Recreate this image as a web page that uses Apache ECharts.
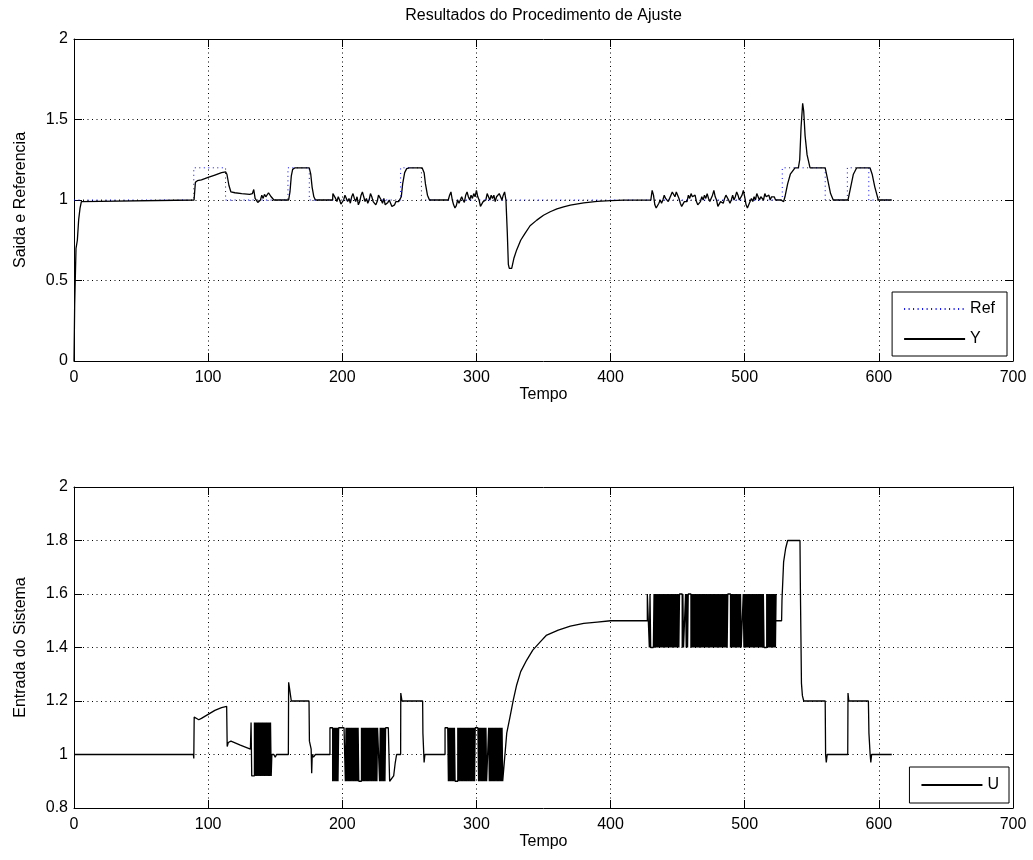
<!DOCTYPE html>
<html>
<head>
<meta charset="utf-8">
<title>Resultados do Procedimento de Ajuste</title>
<script src="https://cdn.jsdelivr.net/npm/echarts@6.0.0/dist/echarts.min.js"></script>
<style>
  html, body { margin: 0; padding: 0; background: #fff; }
  #grafico { width: 1033px; height: 860px; }
</style>
</head>
<body>
<div id="grafico"></div>
<script>
// ---------------- Dados ----------------
const titulo = 'Resultados do Procedimento de Ajuste';
const nomeTempo = 'Tempo';
const nomeSaida = 'Saida e Referencia';
const nomeEntrada = 'Entrada do Sistema';

const ticksTempo = [0, 100, 200, 300, 400, 500, 600, 700];
const ticksSaida = [0, 0.5, 1, 1.5, 2];
const ticksEntrada = [0.8, 1, 1.2, 1.4, 1.6, 1.8, 2];

// Referencia (degraus): [tempo, valor]
const referencia = [
  [0, 1], [89.3, 1], [89.3, 1.2], [113, 1.2], [113, 1], [159.5, 1], [159.5, 1.2],
  [175.4, 1.2], [175.4, 1], [243.5, 1], [243.5, 1.2], [259, 1.2], [259, 1],
  [528, 1], [528, 1.2], [560, 1.2], [560, 1], [576.5, 1], [576.5, 1.2],
  [592.5, 1.2], [592.5, 1], [609, 1]
];

// Saida Y: trechos suaves [tempo, valor]
const yTrecho0 = [
  [0, 0], [0.5, 0.35], [1.5, 0.7], [2.5, 0.75], [3.5, 0.88], [4.5, 0.95], [5.5, 0.99], [6.5, 1.0],
  [89.5, 1.0], [90.5, 1.11], [92, 1.12], [95, 1.125], [100, 1.14], [105, 1.155], [110, 1.17],
  [113, 1.175], [114, 1.16], [115.5, 1.09], [117, 1.05], [120, 1.045], [125, 1.04], [131, 1.035]
];
const yTrecho1 = [
  [160, 1.0], [161, 1.05], [162, 1.15], [163, 1.19], [164.8, 1.2], [175.4, 1.2], [176.5, 1.16],
  [177.5, 1.08], [178.8, 1.02], [180, 1.0], [192.8, 1.0]
];
const yTrecho2 = [
  [244, 1.02], [245, 1.1], [246.5, 1.17], [248, 1.195], [250, 1.2], [259.5, 1.2], [261, 1.17],
  [262, 1.1], [263.5, 1.03], [265, 1.0], [279, 1.0]
];
const yTrecho3 = [
  [322, 1.0], [323, 0.8], [323.8, 0.6], [324.5, 0.575], [326.3, 0.575], [328, 0.64], [330, 0.69],
  [333, 0.75], [336, 0.79], [340, 0.84], [345, 0.875], [350, 0.905], [355, 0.927], [360, 0.945],
  [365, 0.958], [370, 0.968], [380, 0.982], [390, 0.991], [400, 0.996], [410, 0.999], [430, 1.0]
];
const yTrecho4 = [
  [527, 1.0], [529, 0.99], [530, 1.02], [532, 1.1], [534, 1.16], [537.5, 1.2], [540, 1.2],
  [541, 1.25], [542, 1.45], [543.2, 1.6], [544, 1.55], [545, 1.4], [546.5, 1.28], [548.7, 1.2],
  [560, 1.2], [562, 1.12], [564, 1.04], [566, 1.0], [577, 1.0], [579, 1.08], [581, 1.16],
  [583.5, 1.2], [593.4, 1.2], [595, 1.16], [597, 1.08], [599.6, 1.0], [609.6, 1.0]
];
// Saida Y: trechos com excitacao, uma amostra por unidade de tempo
const inicioRuidoY = [132, 193, 280, 431];
const yRuido1 = [1.03, 1.04, 1.065, 1.01, 1.0, 0.985, 0.975, 1.0, 1.03, 1.01, 1.035, 1.02, 1.015,
  1.045, 1.035, 1.02, 1.01, 1.0, 1.0];
const yRuido2 = [1.04, 1.05, 1.01, 0.99, 1.02, 1.0, 0.975, 0.97, 1.0, 1.03, 1.02, 0.99, 1.01, 0.98,
  1.02, 1.04, 1.01, 0.99, 1.02, 0.97, 0.99, 1.03, 1.05, 1.02, 0.99, 1.01, 0.98, 1.0, 1.04, 1.02,
  0.99, 1.0, 0.97, 0.99, 1.03, 1.04, 1.0, 0.98, 1.01, 0.97, 0.96, 0.985, 1.0, 0.98, 0.96, 0.955,
  0.97, 0.99, 1.0, 0.99, 1.0];
const yRuido3 = [1.03, 1.05, 1.0, 0.97, 0.95, 0.965, 1.0, 0.98, 0.99, 1.02, 1.0, 0.985, 1.03, 1.05,
  1.02, 1.0, 1.03, 1.01, 1.04, 1.02, 1.06, 1.02, 1.0, 0.96, 0.97, 0.99, 0.98, 1.0, 1.04, 1.02,
  1.0, 1.03, 1.01, 1.03, 0.99, 1.02, 1.01, 1.04, 1.02, 1.0, 1.03, 1.05];
const yRuido4 = [1.06, 1.03, 0.97, 0.95, 0.96, 0.98, 1.0, 0.98, 1.0, 1.03, 1.01, 1.02, 0.99, 1.0,
  1.03, 1.05, 1.04, 1.02, 1.05, 1.03, 1.01, 0.98, 0.96, 0.97, 0.99, 1.0, 0.99, 1.03, 1.01, 1.04,
  1.02, 1.01, 1.03, 0.99, 0.97, 0.98, 0.99, 1.02, 1.0, 1.03, 1.01, 1.04, 1.01, 0.99, 1.0, 1.03,
  1.06, 1.02, 1.0, 0.96, 0.97, 0.99, 1.0, 0.98, 1.01, 1.03, 1.02, 1.0, 0.98, 1.0, 1.03, 1.0,
  1.02, 1.05, 1.03, 1.0, 0.99, 1.03, 1.06, 1.02, 0.97, 0.95, 0.97, 0.99, 1.01, 0.99, 1.02, 1.0,
  1.04, 1.02, 1.0, 1.02, 1.03, 1.0, 1.04, 1.02, 1.01, 1.03, 1.0, 1.02, 1.01, 1.02, 1.0, 1.01, 1.0];

// Entrada U: trechos [tempo, valor]
const uTrecho0 = [
  [0, 1], [89, 1], [89.3, 0.985], [89.6, 1.14], [93, 1.13], [95, 1.135], [100, 1.15],
  [105, 1.165], [110, 1.175], [113.8, 1.18], [114.2, 1.03], [115, 1.045], [117, 1.05],
  [124, 1.035], [131.5, 1.02], [132, 1.02]
];
const uTrecho1 = [
  [147.5, 1.0], [149, 1.0], [150, 0.99], [151, 1.0], [159.8, 1.0], [160, 1.27], [160.6, 1.25],
  [162, 1.2], [175.2, 1.2], [175.5, 1.05], [176.8, 1.02], [177.2, 0.93], [177.6, 1.0],
  [178.5, 0.99], [180, 1.0], [190.8, 1.0]
];
const uTrecho2 = [
  [238.3, 0.92], [239.5, 0.97], [240.5, 1.0], [243.5, 1.0], [243.6, 1.23], [244.5, 1.2],
  [259.9, 1.2], [260.1, 1.08], [260.8, 1.08], [261, 0.97], [261.6, 1.0], [263, 0.995], [276.6, 1.0]
];
const uTrecho3 = [
  [322.6, 1.08], [323.3, 1.08], [325, 1.14], [327.5, 1.204], [330, 1.26], [333, 1.31],
  [337.5, 1.353], [342, 1.39], [347.4, 1.42], [352, 1.445], [361, 1.465], [370, 1.48],
  [380, 1.49], [390, 1.495], [400, 1.5], [427.4, 1.5]
];
const uTrecho4 = [
  [522.9, 1.5], [527.5, 1.5], [527.8, 1.58], [528.8, 1.58], [529, 1.72], [530.5, 1.77],
  [532, 1.8], [541.2, 1.8], [541.5, 1.62], [542, 1.62], [542.3, 1.266], [543, 1.22], [544, 1.2],
  [560, 1.2], [560.3, 1.0], [560.8, 0.97], [561.5, 1.0], [576.8, 1.0], [577, 1.23], [577.6, 1.2],
  [592.2, 1.2], [592.6, 1.08], [593.5, 1.0], [594, 0.97], [594.6, 1.0], [609.6, 1.0]
];
// Entrada U: blocos de excitacao binaria (H = nivel alto, L = nivel baixo), meio instante por letra
const inicioBlocoU = [132, 190.8, 276.6, 427.4];
const niveisBlocoU = [[1.12, 0.92], [1.1, 0.9], [1.1, 0.9], [1.6, 1.4]];
const blocoU1 = 'HLLLLHLHLHLHLHLHLHLHLHLHLHLHLHL';
const blocoU2 = 'HHHHLHLHLHLHLHHHHHHHHHHLHLHLHLHLHLHLHLHLHLHLLLLHLHLHLHLHLHLHLHLHLHLHLHLHHHLHLHLHLHLHHHHHHLL';
const blocoU3 = 'HHHHHLHLHLHLHLHLLLLHLHLHLHLHLHLHLHLHLHLHLHLHLHHHHHLHLHLHLHLHLHLLLHLHLHLHLHLHLHLHLHLHLHL';
const blocoU4 = 'HHHLHLLLLLHLHLHLHLHLHLHLHLHLHLHLHLHLHLHLHLHLHLHLHHHHLHLLLHLHLHHHHLHLHLHLHLHLHLHLHLHLHLHLHLHLHLHLHLHLHLHLHLHLHLHLHLHLHLHLHHHHLHLHLHLHLHLHLHLHLLLHLHLHLHLHLHLHLHLHLHLHLHLHLHLHLHLLLLHLHLHLHLHLHLHLH';
const passoBlocoU = 0.5;

// ---------------- Montagem das series ----------------
function ruidoParaPontos(inicio, valores) {
  return valores.map((v, i) => [inicio + i, v]);
}
function blocoParaPontos(inicio, padrao, niveis) {
  const pts = [];
  for (let i = 0; i < padrao.length; i++) {
    const v = padrao[i] === 'H' ? niveis[0] : niveis[1];
    pts.push([inicio + i * passoBlocoU, v], [inicio + (i + 1) * passoBlocoU, v]);
  }
  return pts;
}

const saidaY = [].concat(
  yTrecho0, ruidoParaPontos(inicioRuidoY[0], yRuido1),
  yTrecho1, ruidoParaPontos(inicioRuidoY[1], yRuido2),
  yTrecho2, ruidoParaPontos(inicioRuidoY[2], yRuido3),
  yTrecho3, ruidoParaPontos(inicioRuidoY[3], yRuido4),
  yTrecho4
);
const blocosU = [blocoU1, blocoU2, blocoU3, blocoU4].map((b, k) =>
  blocoParaPontos(inicioBlocoU[k], b, niveisBlocoU[k]));
const entradaU = [].concat(
  uTrecho0, blocosU[0], uTrecho1, blocosU[1], uTrecho2, blocosU[2], uTrecho3, blocosU[3], uTrecho4
);

// ---------------- Estilo ----------------
const FONTE = '"Liberation Sans", Arial, Helvetica, sans-serif';
const TAM = 16;
const PONTILHADO = [1, 3.5];

function eixoX(grid, ticks, comRotulo) {
  return {
    type: 'value', gridIndex: grid, position: comRotulo ? 'bottom' : 'top',
    min: ticks[0], max: ticks[ticks.length - 1], interval: ticks[1] - ticks[0],
    name: comRotulo ? nomeTempo : '', nameLocation: 'middle', nameGap: 22,
    nameTextStyle: { fontFamily: FONTE, fontSize: TAM, color: '#000' },
    axisLine: { show: true, onZero: false, lineStyle: { color: '#000', width: 1 } },
    axisTick: { show: true, inside: true, length: 8, lineStyle: { color: '#000', width: 1 } },
    axisLabel: { show: comRotulo, margin: 9, fontFamily: FONTE, fontSize: TAM, color: '#000' },
    splitLine: { show: comRotulo, lineStyle: { color: '#000', width: 1, type: PONTILHADO } }
  };
}
function eixoY(grid, ticks, comRotulo, nome) {
  return {
    type: 'value', gridIndex: grid, position: comRotulo ? 'left' : 'right',
    min: ticks[0], max: ticks[ticks.length - 1], interval: +(ticks[1] - ticks[0]).toFixed(6),
    name: comRotulo ? nome : '', nameLocation: 'middle', nameGap: 45, nameRotate: 90,
    nameTextStyle: { fontFamily: FONTE, fontSize: TAM, color: '#000' },
    axisLine: { show: true, onZero: false, lineStyle: { color: '#000', width: 1 } },
    axisTick: { show: true, inside: true, length: 8, lineStyle: { color: '#000', width: 1 } },
    axisLabel: { show: comRotulo, margin: 6, fontFamily: FONTE, fontSize: TAM, color: '#000' },
    splitLine: { show: comRotulo, lineStyle: { color: '#000', width: 1, type: PONTILHADO } }
  };
}

// Legenda: so a linha de cada serie, sem marcador
const legendaComum = {
  orient: 'vertical', itemWidth: 61, itemHeight: 14, itemGap: 14,
  borderColor: '#000', borderWidth: 1, borderRadius: 0, backgroundColor: '#fff',
  itemStyle: { opacity: 0, borderWidth: 0 },
  textStyle: { fontFamily: FONTE, fontSize: TAM, color: '#000' },
  selectedMode: false, align: 'left'
};

const grafico = echarts.init(document.getElementById('grafico'), null, { renderer: 'canvas' });
grafico.setOption({
  animation: false,
  backgroundColor: '#fff',
  graphic: [{
    type: 'text', x: 543.5, y: 8,
    style: { text: titulo, align: 'center', verticalAlign: 'top', fill: '#000',
      font: TAM + 'px ' + FONTE }
  }],
  grid: [
    { left: 74, top: 39, width: 939, height: 322, show: false },
    { left: 74, top: 487, width: 939, height: 321, show: false }
  ],
  xAxis: [
    eixoX(0, ticksTempo, true), eixoX(0, ticksTempo, false),
    eixoX(1, ticksTempo, true), eixoX(1, ticksTempo, false)
  ],
  yAxis: [
    eixoY(0, ticksSaida, true, nomeSaida), eixoY(0, ticksSaida, false),
    eixoY(1, ticksEntrada, true, nomeEntrada), eixoY(1, ticksEntrada, false)
  ],
  legend: [
    Object.assign({}, legendaComum, { data: ['Ref', 'Y'], right: 26, top: 292, padding: [9, 12, 9, 11] }),
    Object.assign({}, legendaComum, { data: ['U'], right: 24, top: 767, padding: [10, 10, 10, 11] })
  ],
  series: [
    { name: 'Ref', type: 'line', xAxisIndex: 0, yAxisIndex: 0, data: referencia,
      symbol: 'none', showSymbol: false, sampling: null, silent: true,
      lineStyle: { color: '#0000ff', width: 1, type: PONTILHADO }, itemStyle: { color: '#0000ff' } },
    { name: 'Y', type: 'line', xAxisIndex: 0, yAxisIndex: 0, data: saidaY,
      symbol: 'none', showSymbol: false, silent: true,
      lineStyle: { color: '#000', width: 1.3 }, itemStyle: { color: '#000' } },
    { name: 'U', type: 'line', xAxisIndex: 2, yAxisIndex: 2, data: entradaU,
      symbol: 'none', showSymbol: false, silent: true, progressive: 0,
      lineStyle: { color: '#000', width: 1.3 }, itemStyle: { color: '#000' } }
  ]
});
</script>
</body>
</html>
